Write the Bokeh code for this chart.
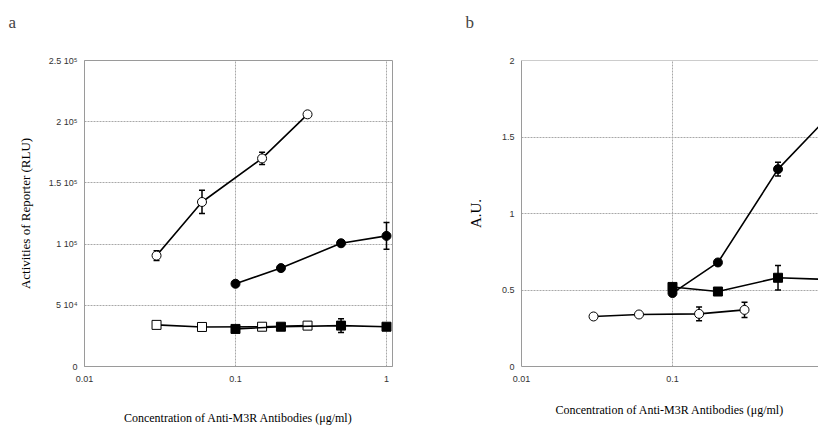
from bokeh.plotting import figure
from bokeh.layouts import row
from bokeh.models import Range1d, FixedTicker, Whisker, ColumnDataSource, Span, TeeHead
from bokeh.embed import file_html
from bokeh.resources import INLINE

# ---------------- data ----------------
x_ticks = [0.01, 0.1, 1]
x_tick_labels = ["0.01", "0.1", "1"]

# panel a
a_ytick_vals = [0, 50000, 100000, 150000, 200000, 250000]
a_ytick_labels = ["0", "5 10\u2074", "1 10\u2075", "1.5 10\u2075", "2 10\u2075", "2.5 10\u2075"]
a_oc_x = [0.03, 0.06, 0.15, 0.3]
a_oc_y = [90600, 134400, 170000, 206000]
a_oc_e = [4000, 9500, 5000, 0]
a_fc_x = [0.1, 0.2, 0.5, 1.0]
a_fc_y = [67600, 80400, 100700, 106700]
a_fc_e = [0, 0, 0, 11000]
a_os_x = [0.03, 0.06, 0.15, 0.3]
a_os_y = [34000, 32300, 32500, 33400]
a_os_e = [0, 2000, 2500, 0]
a_fs_x = [0.1, 0.2, 0.5, 1.0]
a_fs_y = [30700, 32500, 33400, 32500]
a_fs_e = [0, 2500, 5700, 0]

# panel b
b_ytick_vals = [0, 0.5, 1, 1.5, 2]
b_ytick_labels = ["0", "0.5", "1", "1.5", "2"]
b_fc_x = [0.1, 0.2, 0.5, 1.0]
b_fc_y = [0.48, 0.68, 1.29, 1.60]
b_fc_e = [0, 0, 0.045, 0]
b_fs_x = [0.1, 0.2, 0.5, 1.0]
b_fs_y = [0.52, 0.49, 0.58, 0.57]
b_fs_e = [0, 0, 0.08, 0]
b_oc_x = [0.03, 0.06, 0.15, 0.3]
b_oc_y = [0.327, 0.34, 0.344, 0.37]
b_oc_e = [0, 0, 0.045, 0.05]

x_title = "Concentration of Anti-M3R Antibodies (\u03bcg/ml)"
SERIF = "Liberation Serif"
SANS = "Liberation Sans"


def style(p, yt, yl, ylabel, ylab_size, ylab_standoff, xlab_standoff, title_offset):
    p.xaxis.ticker = FixedTicker(ticks=x_ticks)
    p.xaxis.major_label_overrides = {t: l for t, l in zip(x_ticks, x_tick_labels)}
    p.yaxis.ticker = FixedTicker(ticks=yt)
    p.yaxis.major_label_overrides = {t: l for t, l in zip(yt, yl)}
    for ax in (p.xaxis, p.yaxis):
        ax.major_tick_line_color = None
        ax.minor_tick_line_color = None
        ax.major_tick_out = 0
        ax.major_tick_in = 0
        ax.minor_tick_out = 0
        ax.axis_line_color = "#9a9a9a"
        ax.major_label_text_font = SANS
        ax.major_label_text_font_size = "9px"
        ax.major_label_text_color = "#333333"
        ax.axis_label_text_font = SERIF
        ax.axis_label_text_font_style = "normal"
        ax.axis_label_text_color = "black"
    p.xaxis.major_label_standoff = 9
    p.yaxis.major_label_standoff = 7
    p.xaxis.axis_label = x_title
    p.xaxis.axis_label_text_font_size = "12px"
    p.xaxis.axis_label_standoff = xlab_standoff
    p.yaxis.axis_label = ylabel
    p.yaxis.axis_label_text_font_size = ylab_size
    p.yaxis.axis_label_standoff = ylab_standoff
    p.xgrid.ticker = FixedTicker(ticks=x_ticks)
    p.ygrid.ticker = FixedTicker(ticks=yt)
    for g in (p.xgrid, p.ygrid):
        g.grid_line_color = "#a8a8a8"
        g.grid_line_dash = "2 1"
        g.grid_line_width = 1
    p.background_fill_color = "white"
    p.border_fill_color = "white"
    p.title.text_font = SERIF
    p.title.text_font_size = "17px"
    p.title.text_font_style = "normal"
    p.title.align = "left"
    p.title.offset = title_offset
    p.title.standoff = 20


def series(p, xs, ys, es, marker, fill):
    p.line(xs, ys, line_color="black", line_width=1.6)
    ex = [x for x, e in zip(xs, es) if e > 0]
    if ex:
        lo = [y - e for y, e in zip(ys, es) if e > 0]
        hi = [y + e for y, e in zip(ys, es) if e > 0]
        src = ColumnDataSource(dict(x=ex, lo=lo, hi=hi))
        p.add_layout(Whisker(source=src, base="x", lower="lo", upper="hi", dimension="height",
                             line_color="black", line_width=1.5,
                             upper_head=TeeHead(size=6, line_color="black", line_width=1.5),
                             lower_head=TeeHead(size=6, line_color="black", line_width=1.5)))
    p.scatter(xs, ys, marker=marker, size=9, fill_color=fill, line_color="black", line_width=1)


# ---------------- panel a ----------------
pa = figure(width=438, height=427, x_axis_type="log", title="a\n ",
            x_range=Range1d(0.01, 1.096), y_range=Range1d(0, 250000),
            output_backend="svg", toolbar_location=None,
            min_border_left=84, min_border_right=46, min_border_top=60, min_border_bottom=60)
style(pa, a_ytick_vals, a_ytick_labels, "Activities of Reporter (RLU)", "13px", 13, 26, -76)
pa.outline_line_color = "#9a9a9a"
series(pa, a_os_x, a_os_y, a_os_e, "square", "white")
series(pa, a_fs_x, a_fs_y, a_fs_e, "square", "black")
series(pa, a_oc_x, a_oc_y, a_oc_e, "circle", "white")
series(pa, a_fc_x, a_fc_y, a_fc_e, "circle", "black")

# ---------------- panel b ----------------
pb = figure(width=380, height=427, x_axis_type="log", title="b\n ",
            x_range=Range1d(0.01, 0.927), y_range=Range1d(0, 2),
            output_backend="svg", toolbar_location=None,
            min_border_left=83, min_border_right=0, min_border_top=60, min_border_bottom=61)
style(pb, b_ytick_vals, b_ytick_labels, "A.U.", "15px", 15, 18, -56)
pb.outline_line_color = None
pb.add_layout(Span(location=2, dimension="width", line_color="#9a9a9a", line_width=1))
series(pb, b_oc_x, b_oc_y, b_oc_e, "circle", "white")
series(pb, b_fs_x, b_fs_y, b_fs_e, "square", "black")
series(pb, b_fc_x, b_fc_y, b_fc_e, "circle", "black")

layout = row(pa, pb)
open("out.html", "w").write(file_html(layout, INLINE))
